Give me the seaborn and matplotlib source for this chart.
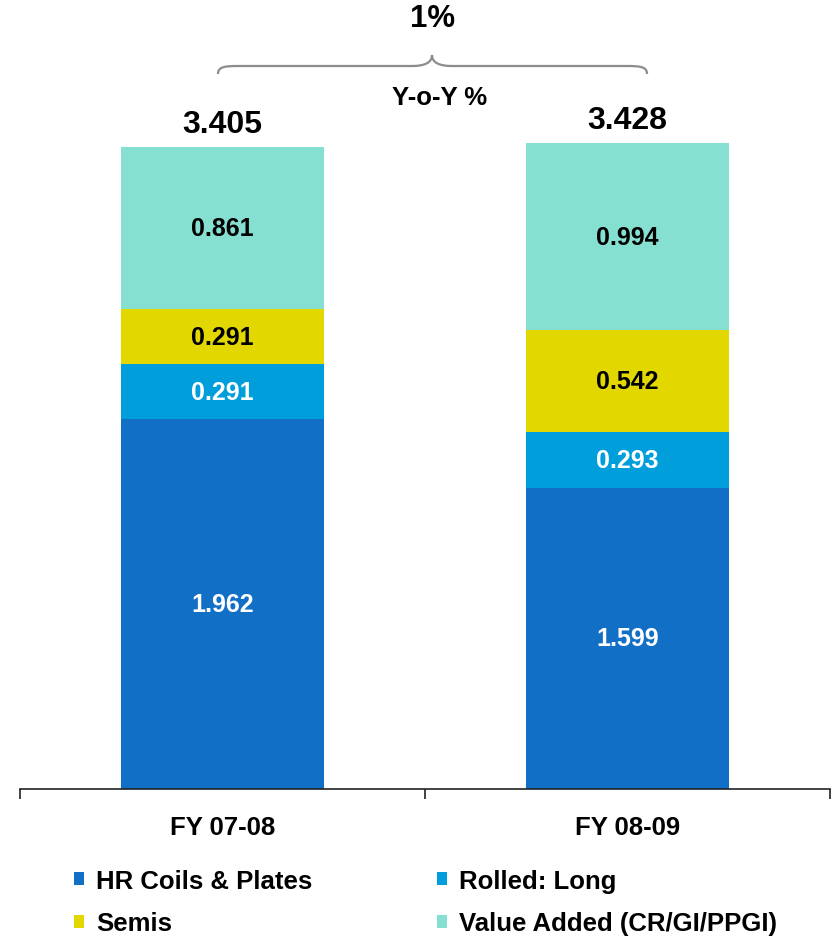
import numpy as np
import pandas as pd
import matplotlib
matplotlib.use("Agg")
import matplotlib.pyplot as plt
from matplotlib.patches import Patch, PathPatch
from matplotlib.path import Path
import seaborn as sns

# Sales mix (million tonnes) by product group
years = ["FY 07-08", "FY 08-09"]
hr_coils = [1.962, 1.599]
rolled_long = [0.291, 0.293]
semis = [0.291, 0.542]
value_added = [0.861, 0.994]
totals = [3.405, 3.428]
yoy_label = "1%"

series_names = ["HR Coils & Plates", "Rolled: Long", "Semis", "Value Added (CR/GI/PPGI)"]
series_values = [hr_coils, rolled_long, semis, value_added]
series_colors = ["#116FC6", "#009EDB", "#E2D800", "#85E0D2"]
label_colors = ["white", "white", "black", "black"]

sns.set_theme(style="white")
plt.rcParams["font.family"] = ["Liberation Sans", "DejaVu Sans"]
plt.rcParams["font.weight"] = "bold"
plt.rcParams["text.color"] = "black"

W, H = 831, 937
fig = plt.figure(figsize=(W / 100, H / 100), dpi=100)
ax = fig.add_axes([20 / W, (H - 790) / H, 810 / W, 770 / H])

# stacked bars: draw cumulative heights from the top layer down
cum = np.cumsum(np.array(series_values), axis=0)
for k in range(len(series_names) - 1, -1, -1):
    df = pd.DataFrame({"year": years, "value": cum[k]})
    sns.barplot(data=df, x="year", y="value", color=series_colors[k],
                saturation=1, width=0.5, errorbar=None, ax=ax, linewidth=0)

# segment value labels
for k, vals in enumerate(series_values):
    for i, v in enumerate(vals):
        centre = cum[k][i] - v / 2
        ax.text(i, centre, f"{v:.3f}", ha="center", va="center",
                fontsize=18, fontweight="bold", color=label_colors[k])

# totals above bars
for i, t in enumerate(totals):
    ax.annotate(f"{t:.3f}", xy=(i, t), xytext=(0, 11), textcoords="offset points",
                ha="center", va="baseline", fontsize=23, fontweight="bold",
                color="black")

ax.set_xlim(-0.5, 1.5)
ax.set_ylim(0, 770 / 188.5)
ax.set_xlabel("")
ax.set_ylabel("")
ax.set_yticks([])
for s in ["left", "right", "top"]:
    ax.spines[s].set_visible(False)
ax.spines["bottom"].set_color("#222222")
ax.spines["bottom"].set_linewidth(1.2)
ax.set_xticks([0, 1])
ax.set_xticklabels(years, fontsize=18.5, fontweight="bold", color="black")
ax.tick_params(axis="x", which="major", length=0, pad=19)
ax.set_xticks([-0.5, 0.5, 1.5], minor=True)
ax.tick_params(axis="x", which="minor", length=7, width=1.2, color="#222222",
               direction="out", bottom=True)


# year-on-year brace (figure pixel coordinates)
def px(x, y):
    return (x / W, (H - y) / H)


verts = [px(218, 75), px(218, 68), px(224, 67), px(238, 67),
         px(412, 67),
         px(424, 67), px(432, 64), px(432, 56),
         px(432, 64), px(440, 67), px(452, 67),
         px(627, 67),
         px(641, 67), px(647, 68), px(647, 75)]
codes = [Path.MOVETO, Path.CURVE4, Path.CURVE4, Path.CURVE4,
         Path.LINETO,
         Path.CURVE4, Path.CURVE4, Path.CURVE4,
         Path.CURVE4, Path.CURVE4, Path.CURVE4,
         Path.LINETO,
         Path.CURVE4, Path.CURVE4, Path.CURVE4]
fig.add_artist(PathPatch(Path(verts, codes), facecolor="none", edgecolor="#8C8C8C",
                         linewidth=1.6, transform=fig.transFigure))

fig.text(*px(433, 19), yoy_label, ha="center", va="center", fontsize=22.5,
         fontweight="bold", color="black")
fig.text(*px(440, 98), "Y-o-Y %", ha="center", va="center", fontsize=18.5,
         fontweight="bold", color="black")

# legend: two columns, filled column-first
order = [0, 2, 1, 3]
handles = [Patch(facecolor=series_colors[k], edgecolor="none", label=series_names[k])
           for k in order]
fig.legend(handles=handles, ncol=2, loc="upper left", bbox_to_anchor=px(74, 870),
           frameon=False, handlelength=0.4, handleheight=0.4,
           handletextpad=0.45, columnspacing=4.85, labelspacing=0.72,
           borderpad=0, borderaxespad=0, labelcolor="black",
           prop={"weight": "bold", "size": 18.5})

fig.savefig("out.png", dpi=100)
